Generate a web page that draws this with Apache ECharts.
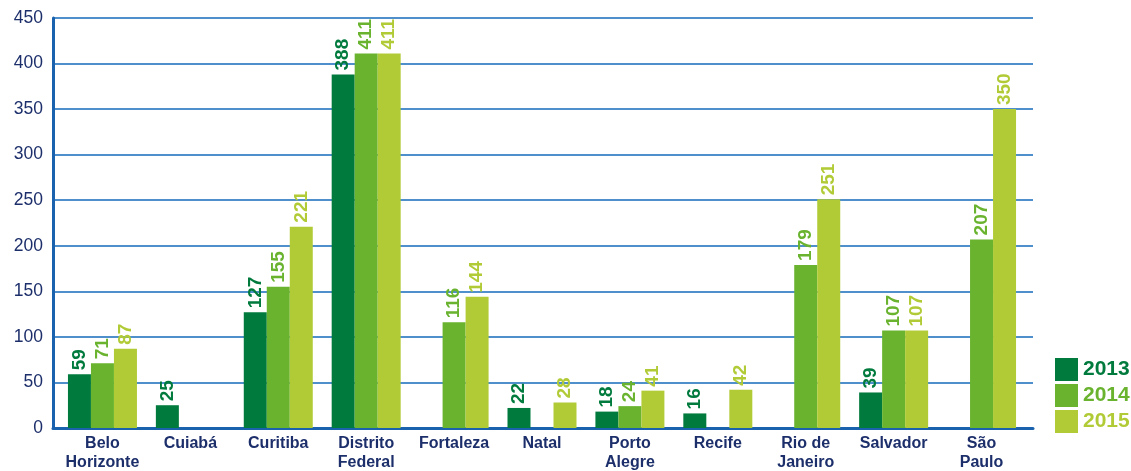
<!DOCTYPE html>
<html>
<head>
<meta charset="utf-8">
<script src="https://cdn.jsdelivr.net/npm/echarts@6/dist/echarts.min.js"></script>
<style>
  html, body { margin: 0; padding: 0; background: #fff; }
  #chart { width: 1131px; height: 471px; }
</style>
</head>
<body>
<div id="chart"></div>
<script>
const cities = ['Belo\nHorizonte', 'Cuiabá', 'Curitiba', 'Distrito\nFederal', 'Fortaleza', 'Natal',
  'Porto\nAlegre', 'Recife', 'Rio de\nJaneiro', 'Salvador', 'São\nPaulo'];
const years = ['2013', '2014', '2015'];
const v2013 = [59, 25, 127, 388, '-', 22, 18, 16, '-', 39, '-'];
const v2014 = [71, '-', 155, 411, 116, '-', 24, '-', 179, 107, 207];
const v2015 = [87, '-', 221, 411, 144, 28, 41, 42, 251, 107, 350];
const yMax = 450;
const yStep = 50;

const colors = ['#007a3d', '#69b32f', '#b1cb37'];
const navy = '#1d2f6b';
const font = 'Liberation Sans, Arial, sans-serif';

const chart = echarts.init(document.getElementById('chart'));

const mkSeries = (name, data, i) => ({
  name: name,
  type: 'bar',
  xAxisIndex: 1,
  yAxisIndex: 1,
  data: data,
  barWidth: 23,
  barGap: '0%',
  itemStyle: { color: colors[i] },
  label: {
    show: true,
    position: 'top',
    rotate: 90,
    align: 'left',
    verticalAlign: 'middle',
    distance: 4,
    color: colors[i],
    fontFamily: font,
    fontWeight: 'bold',
    fontSize: 19
  }
});

chart.setOption({
  animation: false,
  legend: {
    orient: 'vertical',
    left: 1050,
    top: 353,
    itemWidth: 23,
    itemHeight: 23,
    itemGap: 3,
    icon: 'rect',
    textStyle: { fontFamily: font, fontWeight: 'bold', fontSize: 21 },
    data: years.map((y, i) => ({ name: y, textStyle: { color: colors[i] } }))
  },
  grid: [
    { left: 53, top: 18, width: 980, bottom: 43, outerBoundsMode: 'none' },
    { left: 58.5, top: 18, width: 967, bottom: 43, outerBoundsMode: 'none' }
  ],
  xAxis: [
    {
      gridIndex: 0, type: 'value', min: 0, max: 1,
      axisLine: { show: true, lineStyle: { color: '#1a62ae', width: 3 } },
      axisTick: { show: false }, axisLabel: { show: false }, splitLine: { show: false }
    },
    {
      gridIndex: 1, type: 'category', data: cities,
      axisLine: { show: false }, axisTick: { show: false },
      axisLabel: {
        margin: 6, color: navy, fontFamily: font, fontWeight: 'bold',
        fontSize: 16, lineHeight: 19, interval: 0
      }
    }
  ],
  yAxis: [
    {
      gridIndex: 0, type: 'value', min: 0, max: yMax, interval: yStep,
      axisLine: { show: true, lineStyle: { color: '#1a62ae', width: 3 } },
      axisTick: { show: false },
      axisLabel: { color: navy, fontFamily: font, fontSize: 17.5, margin: 10 },
      splitLine: { lineStyle: { color: '#4f8fcb', width: 2 } }
    },
    {
      gridIndex: 1, type: 'value', min: 0, max: yMax, interval: yStep,
      axisLine: { show: false }, axisTick: { show: false },
      axisLabel: { show: false }, splitLine: { show: false }
    }
  ],
  series: [
    mkSeries(years[0], v2013, 0),
    mkSeries(years[1], v2014, 1),
    mkSeries(years[2], v2015, 2)
  ]
});

window.addEventListener('resize', () => chart.resize());
</script>
</body>
</html>
